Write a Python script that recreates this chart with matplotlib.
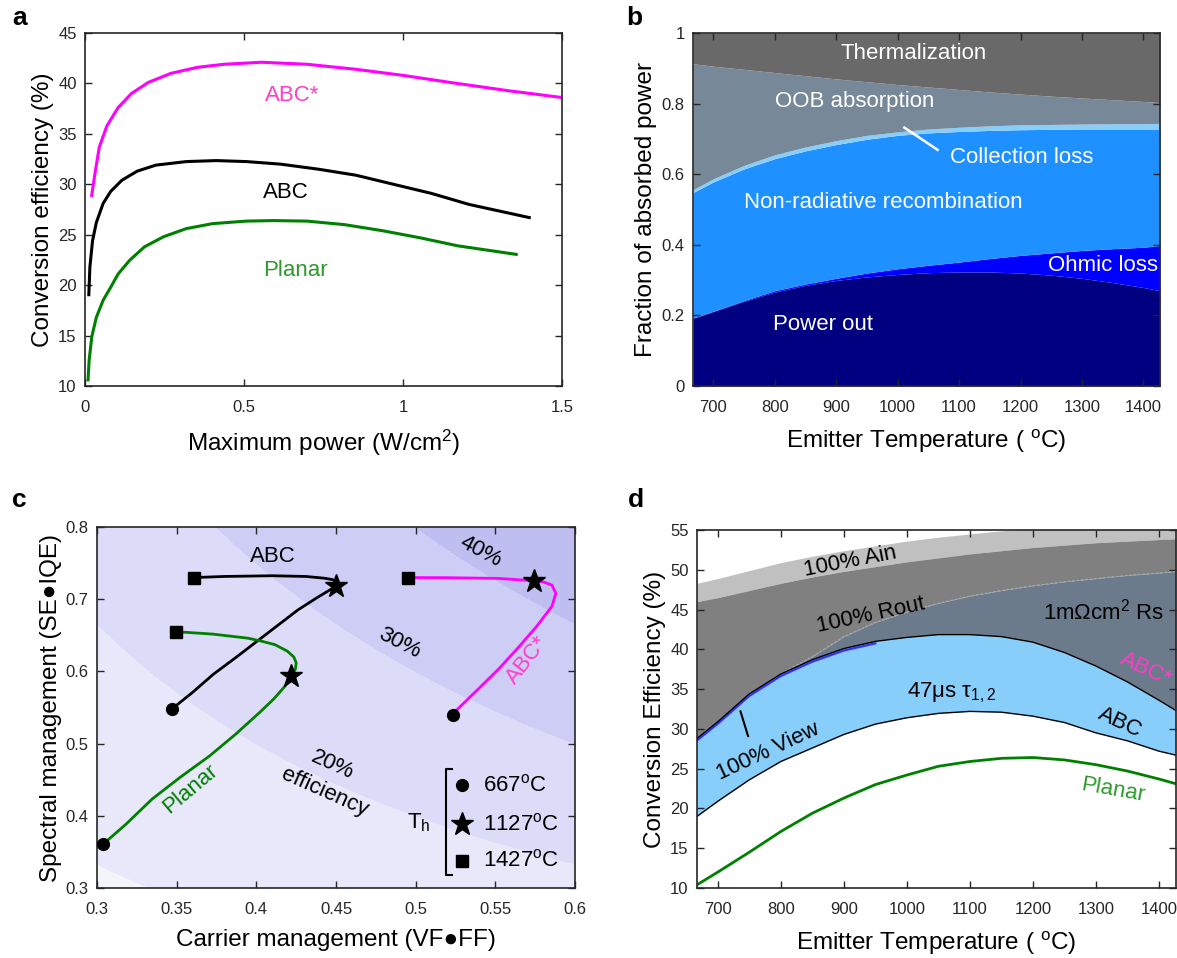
import numpy as np
import matplotlib
matplotlib.use("Agg")
import matplotlib.pyplot as plt
from matplotlib.lines import Line2D

plt.rcParams['font.family'] = ['Liberation Sans', 'DejaVu Sans']
plt.rcParams['mathtext.fontset'] = 'custom'
plt.rcParams['mathtext.rm'] = 'Liberation Sans'
plt.rcParams['mathtext.it'] = 'Liberation Sans:italic'
plt.rcParams['mathtext.bf'] = 'Liberation Sans:bold'

# ---------------- Panel a data ----------------
a_abcs_x = [0.021, 0.031, 0.045, 0.069, 0.104, 0.146, 0.199, 0.27, 0.354, 0.437, 0.555, 0.698, 0.852, 1.0, 1.148, 1.326, 1.5]
a_abcs_y = [28.9, 31.0, 33.7, 35.8, 37.6, 39.0, 40.1, 41.0, 41.6, 41.9, 42.1, 41.9, 41.4, 40.8, 40.1, 39.3, 38.6]
a_abc_x = [0.012, 0.0154, 0.0237, 0.0356, 0.057, 0.081, 0.116, 0.164, 0.223, 0.318, 0.413, 0.508, 0.614, 0.733, 0.852, 0.97, 1.089, 1.208, 1.397]
a_abc_y = [19.05, 21.8, 24.4, 26.2, 28.1, 29.3, 30.4, 31.3, 31.9, 32.25, 32.35, 32.25, 32.0, 31.5, 30.9, 30.0, 29.1, 28.0, 26.7]
a_pl_x = [0.0095, 0.013, 0.0214, 0.0356, 0.057, 0.081, 0.104, 0.14, 0.187, 0.247, 0.318, 0.401, 0.508, 0.591, 0.698, 0.816, 0.935, 1.053, 1.172, 1.356]
a_pl_y = [10.6, 12.55, 14.9, 16.8, 18.5, 19.8, 21.1, 22.45, 23.8, 24.8, 25.6, 26.1, 26.35, 26.4, 26.35, 26.0, 25.4, 24.7, 23.9, 23.05]

# ---------------- Panel b data ----------------
b_T = [667, 700, 750, 800, 850, 900, 950, 1000, 1050, 1100, 1150, 1200, 1250, 1300, 1350, 1400, 1427]
b_power = [0.192, 0.211, 0.24, 0.266, 0.285, 0.299, 0.309, 0.316, 0.321, 0.323, 0.323, 0.320, 0.314, 0.305, 0.293, 0.279, 0.270]
b_ohmic = [0.192, 0.212, 0.242, 0.27, 0.289, 0.305, 0.32, 0.332, 0.342, 0.351, 0.361, 0.37, 0.377, 0.384, 0.389, 0.393, 0.398]
b_nonrad = [0.548, 0.578, 0.615, 0.644, 0.666, 0.684, 0.699, 0.71, 0.717, 0.721, 0.724, 0.726, 0.727, 0.728, 0.728, 0.728, 0.728]
b_collect = [0.556, 0.587, 0.625, 0.655, 0.677, 0.695, 0.71, 0.72, 0.728, 0.733, 0.737, 0.74, 0.741, 0.742, 0.743, 0.743, 0.744]
b_oob = [0.913, 0.906, 0.897, 0.888, 0.879, 0.870, 0.862, 0.854, 0.847, 0.840, 0.833, 0.827, 0.821, 0.816, 0.811, 0.806, 0.803]
b_therm = [1.0] * len(b_T)

# ---------------- Panel c data ----------------
c_abc_x = [0.347, 0.36, 0.373, 0.387, 0.4, 0.413, 0.426, 0.438, 0.45, 0.452, 0.448, 0.443, 0.431, 0.41, 0.38, 0.361]
c_abc_y = [0.548, 0.571, 0.596, 0.619, 0.641, 0.663, 0.685, 0.702, 0.718, 0.722, 0.727, 0.729, 0.7315, 0.7325, 0.7315, 0.730]
c_pl_x = [0.302, 0.304, 0.318, 0.3345, 0.352, 0.3707, 0.387, 0.402, 0.411, 0.4178, 0.422, 0.4245, 0.425, 0.4235, 0.4195, 0.4117, 0.403, 0.3948, 0.383, 0.373, 0.36, 0.3495]
c_pl_y = [0.357, 0.361, 0.388, 0.423, 0.453, 0.483, 0.513, 0.543, 0.562, 0.579, 0.593, 0.603, 0.612, 0.62, 0.628, 0.637, 0.642, 0.646, 0.649, 0.6516, 0.6535, 0.655]
c_abcs_x = [0.5232, 0.526, 0.539, 0.5517, 0.564, 0.5758, 0.5855, 0.588, 0.5855, 0.58, 0.574, 0.5517, 0.52, 0.4952]
c_abcs_y = [0.538, 0.547, 0.575, 0.6024, 0.632, 0.662, 0.69, 0.708, 0.7196, 0.724, 0.7256, 0.7288, 0.7298, 0.730]
c_circ_x = [0.347, 0.304, 0.5232]
c_circ_y = [0.548, 0.361, 0.539]
c_star_x = [0.45, 0.422, 0.574]
c_star_y = [0.718, 0.593, 0.725]
c_sq_x = [0.361, 0.3495, 0.4952]
c_sq_y = [0.730, 0.655, 0.730]
c_levels = [0.0, 0.1, 0.2, 0.3, 0.4, 0.6]
c_band_colors = ['#F4F4FC', '#E8E8FA', '#DCDCF8', '#CDCDF5', '#BEBEF1']
c_temps = ['667', '1127', '1427']

# ---------------- Panel d data ----------------
d_T = [667, 700, 750, 800, 850, 900, 950, 1000, 1050, 1100, 1150, 1200, 1250, 1300, 1350, 1400, 1427]
d_ain = [48.3, 48.9, 49.9, 50.9, 51.7, 52.4, 53.0, 53.6, 54.1, 54.5, 54.9, 55.2, 55.5, 55.7, 55.9, 56.0, 56.1]
d_rout = [46.0, 46.5, 47.4, 48.3, 49.1, 49.8, 50.4, 51.0, 51.5, 52.0, 52.4, 52.8, 53.1, 53.4, 53.6, 53.8, 53.9]
d_rs = [28.8, 30.9, 34.4, 36.95, 39.1, 41.6, 43.4, 44.7, 45.8, 46.7, 47.4, 48.0, 48.5, 48.9, 49.3, 49.6, 49.8]
d_abcs = [28.8, 30.9, 34.4, 36.9, 38.7, 40.1, 41.0, 41.5, 41.85, 41.85, 41.6, 40.9, 39.6, 37.9, 35.9, 33.6, 32.3]
d_abc = [19.0, 20.9, 23.6, 25.9, 27.6, 29.3, 30.6, 31.4, 31.95, 32.2, 32.1, 31.6, 30.8, 29.5, 28.5, 27.2, 26.7]
d_planar = [10.4, 12.0, 14.5, 17.1, 19.4, 21.3, 23.0, 24.2, 25.3, 25.9, 26.3, 26.4, 26.1, 25.5, 24.7, 23.7, 23.1]

W, H = 1177, 958
fig = plt.figure(figsize=(W / 100, H / 100), dpi=100)

TICK_COLOR = '#262626'


def style(ax):
    ax.tick_params(direction='in', top=True, right=True, length=5, width=1.0,
                   labelsize=12, colors=TICK_COLOR)
    ax.tick_params(axis='x', pad=10)
    ax.tick_params(axis='y', pad=6)
    for s in ax.spines.values():
        s.set_linewidth(1.2)
        s.set_color(TICK_COLOR)


def ax_rect(l, t, r, b):
    return [l / W, 1 - b / H, (r - l) / W, (b - t) / H]


LABEL_FS = 17.5
TXT_FS = 16
XPAD = 9
YPAD = 3

# ---------------- Panel a ----------------
axa = fig.add_axes(ax_rect(85, 33, 562, 386))
axa.plot(a_abcs_x, a_abcs_y, color='#FF00FF', lw=2.2)
axa.plot(a_abc_x, a_abc_y, color='black', lw=2.2)
axa.plot(a_pl_x, a_pl_y, color='#008000', lw=2.2)
axa.set_xlim(0, 1.5)
axa.set_ylim(10, 45)
axa.set_xticks([0, 0.5, 1, 1.5])
axa.set_xticklabels(['0', '0.5', '1', '1.5'])
axa.set_yticks(range(10, 46, 5))
axa.set_xlabel('Maximum power (W/cm$^{2}$)', fontsize=LABEL_FS, labelpad=XPAD)
axa.set_ylabel('Conversion efficiency (%)', fontsize=LABEL_FS, labelpad=YPAD)
axa.text(0.65, 38.8, 'ABC*', color='#FF3DC8', fontsize=TXT_FS, ha='center', va='center')
axa.text(0.632, 29.2, 'ABC', color='black', fontsize=TXT_FS, ha='center', va='center')
axa.text(0.662, 21.5, 'Planar', color='#2E9A2E', fontsize=TXT_FS, ha='center', va='center')
style(axa)

# ---------------- Panel b ----------------
axb = fig.add_axes(ax_rect(693, 33, 1160, 386))
zero = [0.0] * len(b_T)
layers = [(zero, b_power, '#000080'), (b_power, b_ohmic, '#0000FF'),
          (b_ohmic, b_nonrad, '#1E90FF'), (b_nonrad, b_collect, '#87CEFA'),
          (b_collect, b_oob, '#778899'), (b_oob, b_therm, '#696969')]
for lo, hi, col in layers:
    axb.fill_between(b_T, lo, hi, color=col, lw=0)
axb.set_xlim(667, 1427)
axb.set_ylim(0, 1)
axb.set_xticks(range(700, 1401, 100))
axb.set_yticks([0, 0.2, 0.4, 0.6, 0.8, 1])
axb.set_yticklabels(['0', '0.2', '0.4', '0.6', '0.8', '1'])
axb.set_xlabel('Emitter Temperature ( $^{\\mathrm{o}}$C)', fontsize=LABEL_FS, labelpad=XPAD)
axb.set_ylabel('Fraction of absorbed power', fontsize=LABEL_FS, labelpad=YPAD)
wt = dict(color='white', fontsize=TXT_FS, va='center')
axb.text(1026, 0.941, 'Thermalization', ha='center', **wt)
axb.text(930, 0.807, 'OOB absorption', ha='center', **wt)
axb.text(976, 0.52, 'Non-radiative recombination', ha='center', **wt)
axb.text(1424, 0.342, 'Ohmic loss', ha='right', **wt)
axb.text(879, 0.173, 'Power out', ha='center', **wt)
axb.text(1086, 0.646, 'Collection loss', ha='left', **wt)
axb.plot([1011, 1065], [0.732, 0.669], color='white', lw=1.8)
style(axb)

# ---------------- Panel c ----------------
axc = fig.add_axes(ax_rect(97, 527, 575, 888))
gx = np.linspace(0.3, 0.6, 400)
gy = np.linspace(0.3, 0.8, 400)
GX, GY = np.meshgrid(gx, gy)
axc.contourf(GX, GY, GX * GY, levels=c_levels, colors=c_band_colors)
axc.plot(c_abc_x, c_abc_y, color='black', lw=2)
axc.plot(c_pl_x, c_pl_y, color='#008000', lw=2)
axc.plot(c_abcs_x, c_abcs_y, color='#FF00FF', lw=2)
axc.plot(c_circ_x, c_circ_y, 'o', color='black', ms=8.5, zorder=5)
axc.plot(c_star_x, c_star_y, '*', color='black', ms=17, zorder=5)
axc.plot(c_sq_x, c_sq_y, 's', color='black', ms=8.5, zorder=5)
axc.set_xlim(0.3, 0.6)
axc.set_ylim(0.3, 0.8)
axc.set_xticks([0.3, 0.35, 0.4, 0.45, 0.5, 0.55, 0.6])
axc.set_xticklabels(['0.3', '0.35', '0.4', '0.45', '0.5', '0.55', '0.6'])
axc.set_yticks([0.3, 0.4, 0.5, 0.6, 0.7, 0.8])
axc.set_xlabel('Carrier management (VF\u25cfFF)', fontsize=LABEL_FS, labelpad=XPAD)
axc.set_ylabel('Spectral management (SE\u25cfIQE)', fontsize=LABEL_FS, labelpad=YPAD)
axc.text(0.4105, 0.7586, 'ABC', fontsize=TXT_FS, ha='center', va='center')
axc.text(0.541, 0.7655, '40%', fontsize=TXT_FS, ha='center', va='center', rotation=-28)
axc.text(0.49, 0.639, '30%', fontsize=TXT_FS, ha='center', va='center', rotation=-27)
axc.text(0.448, 0.471, '20%', fontsize=TXT_FS, ha='center', va='center', rotation=-24)
axc.text(0.443, 0.432, 'efficiency', fontsize=TXT_FS, ha='center', va='center', rotation=-24)
axc.text(0.3587, 0.437, 'Planar', fontsize=TXT_FS, color='#008000', ha='center', va='center', rotation=40)
axc.text(0.57, 0.616, 'ABC*', fontsize=TXT_FS, color='#FF3DC8', ha='center', va='center', rotation=52)
# legend (bracket style)
tA = axc.transAxes
axc.text(0.674, 0.182, 'T$_{\\mathrm{h}}$', transform=tA, fontsize=TXT_FS, ha='center', va='center')
axc.add_line(Line2D([0.742, 0.73, 0.73, 0.742], [0.329, 0.329, 0.036, 0.036], transform=tA,
                    color='black', lw=1.5))
for yy, mk, ms, tt in zip([0.285, 0.176, 0.076], ['o', '*', 's'], [8.5, 17, 8.5], c_temps):
    axc.plot([0.764], [yy], mk, color='black', ms=ms, transform=tA)
    axc.text(0.807, yy, tt + '$^{\\mathrm{o}}$C', transform=tA, fontsize=TXT_FS, ha='left', va='center')
style(axc)

# ---------------- Panel d ----------------
axd = fig.add_axes(ax_rect(697, 530, 1176, 888))
axd.fill_between(d_T, d_rout, d_ain, color='#C0C0C0', lw=0)
axd.fill_between(d_T, d_rs, d_rout, color='#808080', lw=0)
axd.fill_between(d_T, d_abcs, d_rs, color='#6C7B8B', lw=0)
axd.plot(d_T, d_rs, color='#A9B2BC', lw=0.6, ls='--')
axd.fill_between(d_T, d_abc, d_abcs, color='#87CEFA', lw=0)
axd.plot(d_T[:7], [v - 0.25 for v in d_abcs[:7]], color='#3333FF', lw=1.6)
axd.plot(d_T, d_abcs, color='black', lw=1.0)
axd.plot(d_T, d_abc, color='black', lw=1.0)
axd.plot(d_T, d_planar, color='#008000', lw=2)
axd.set_xlim(667, 1427)
axd.set_ylim(10, 55)
axd.set_xticks(range(700, 1401, 100))
axd.set_yticks(range(10, 56, 5))
axd.set_xlabel('Emitter Temperature ( $^{\\mathrm{o}}$C)', fontsize=LABEL_FS, labelpad=XPAD)
axd.set_ylabel('Conversion Efficiency (%)', fontsize=LABEL_FS, labelpad=YPAD)
axd.text(910, 51.0, '100% Ain', fontsize=TXT_FS, ha='center', va='center', rotation=11)
axd.text(942, 44.25, '100% Rout', fontsize=TXT_FS, ha='center', va='center', rotation=12)
axd.text(1312, 44.7, '1m\u03a9cm$^{2}$ Rs', fontsize=TXT_FS, ha='center', va='center')
axd.text(1379, 37.5, 'ABC*', fontsize=TXT_FS, color='#FF3DC8', ha='center', va='center', rotation=-25)
axd.text(1071, 34.6, '47\u03bcs \u03c4$_{1,2}$', fontsize=TXT_FS, ha='center', va='center')
axd.text(1338, 30.8, 'ABC', fontsize=TXT_FS, ha='center', va='center', rotation=-25)
axd.text(780, 27.2, '100% View', fontsize=TXT_FS, ha='center', va='center', rotation=25)
axd.text(1327, 22.3, 'Planar', fontsize=TXT_FS, color='#2E9A2E', ha='center', va='center', rotation=-10)
axd.plot([736, 748], [32.2, 29.1], color='black', lw=1.5)
style(axd)

# panel letters
for lbl, px, py in [('a', 12, 18), ('b', 626, 18), ('c', 12, 500), ('d', 628, 500)]:
    fig.text(px / W, 1 - py / H, lbl, fontsize=19, fontweight='bold', ha='left', va='center')

fig.savefig('out.png', dpi=100)
